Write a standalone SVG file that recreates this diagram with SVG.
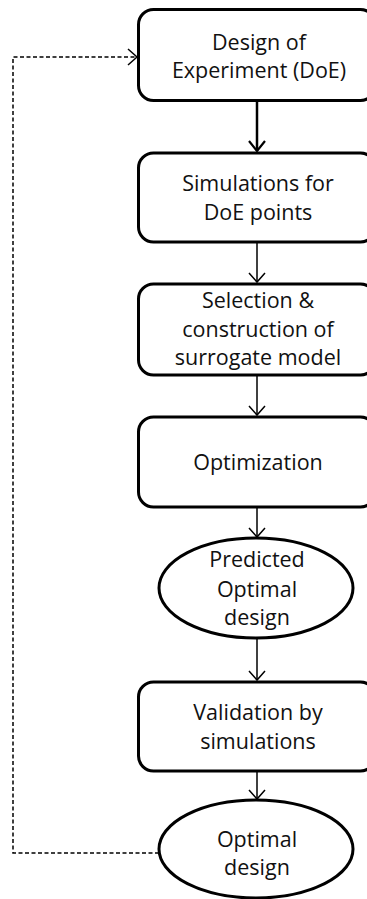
<svg xmlns="http://www.w3.org/2000/svg" width="367" height="899" viewBox="0 0 367 899">
<style>
.box{fill:#fff;stroke:#000;stroke-width:3}
.t{font-family:"Open Sans","Noto Sans",sans-serif;font-size:21.5px;fill:#111;text-anchor:middle}
.c{fill:none;stroke:#000;stroke-width:1.5}
</style>
<defs>
<marker id="ah" markerWidth="12" markerHeight="18" refX="10" refY="9" orient="auto" markerUnits="userSpaceOnUse">
<path d="M1,1 L10,9 L1,17" fill="none" stroke="#000" stroke-width="1.5"/>
</marker>
<marker id="ah2" markerWidth="14" markerHeight="18" refX="11" refY="9" orient="auto" markerUnits="userSpaceOnUse">
<path d="M1,1 L11,9 L1,17" fill="none" stroke="#000" stroke-width="2.2"/>
</marker>
</defs>
<g id="connectors">
<line class="c" x1="257" y1="101" x2="257" y2="151" style="stroke-width:2.5" marker-end="url(#ah2)"/>
<line class="c" x1="257" y1="242" x2="257" y2="282" marker-end="url(#ah)"/>
<line class="c" x1="257" y1="375" x2="257" y2="415" marker-end="url(#ah)"/>
<line class="c" x1="257" y1="507" x2="257" y2="537" marker-end="url(#ah)"/>
<line class="c" x1="257" y1="638" x2="257" y2="680" marker-end="url(#ah)"/>
<line class="c" x1="257" y1="771" x2="257" y2="799" marker-end="url(#ah)"/>
<path class="c" d="M159,853 H13 V57 H137" stroke-dasharray="4,2.5" marker-end="url(#ah)"/>
</g>
<g id="doe">
<rect class="box" x="138.5" y="9.5" width="237" height="91" rx="15"/>
<text class="t" x="259" y="50">Design of</text>
<text class="t" x="259" y="78">Experiment (DoE)</text>
</g>
<g id="sim">
<rect class="box" x="138.5" y="153" width="237" height="89" rx="15"/>
<text class="t" x="258" y="191">Simulations for</text>
<text class="t" x="258" y="220">DoE points</text>
</g>
<g id="surrogate">
<rect class="box" x="138.5" y="284" width="237" height="91" rx="15"/>
<text class="t" x="258" y="308">Selection &amp;</text>
<text class="t" x="258" y="337">construction of</text>
<text class="t" x="258" y="365">surrogate model</text>
</g>
<g id="optimization">
<rect class="box" x="138.5" y="417" width="237" height="90" rx="15"/>
<text class="t" x="258" y="470">Optimization</text>
</g>
<g id="predicted">
<ellipse class="box" cx="256" cy="588" rx="97" ry="50"/>
<text class="t" x="257" y="567">Predicted</text>
<text class="t" x="257" y="597">Optimal</text>
<text class="t" x="257" y="625">design</text>
</g>
<g id="validation">
<rect class="box" x="138.5" y="682" width="237" height="89" rx="15"/>
<text class="t" x="258" y="720">Validation by</text>
<text class="t" x="258" y="749">simulations</text>
</g>
<g id="optimal">
<ellipse class="box" cx="256" cy="849" rx="97" ry="49"/>
<text class="t" x="257" y="847">Optimal</text>
<text class="t" x="257" y="875">design</text>
</g>
</svg>
